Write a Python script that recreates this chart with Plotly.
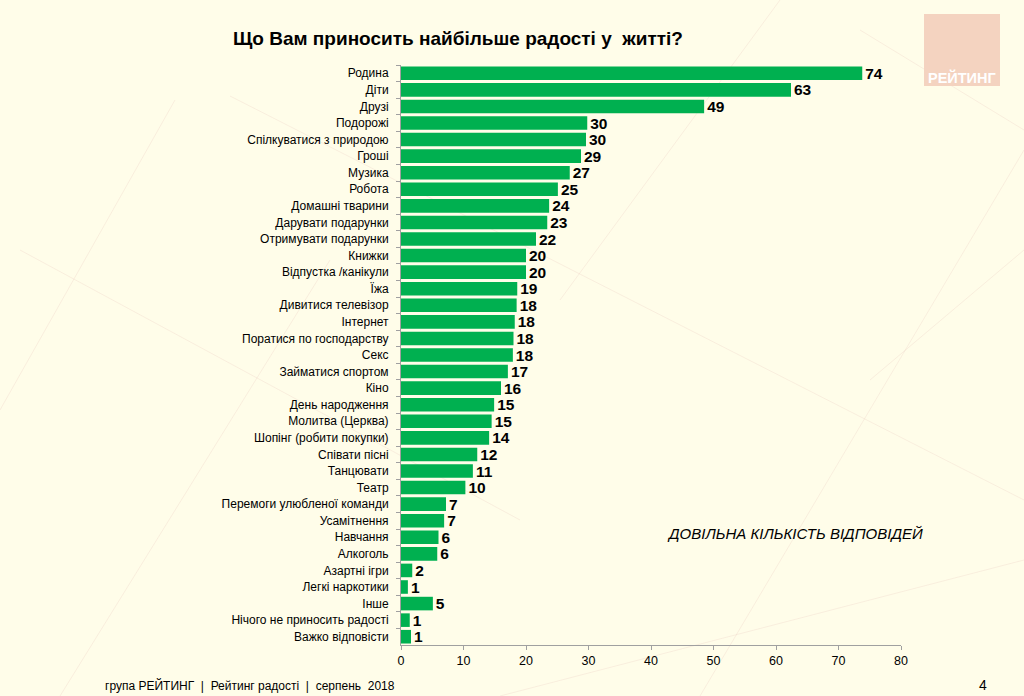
import plotly.graph_objects as go

categories = [
    "Родина", "Діти", "Друзі", "Подорожі", "Спілкуватися з природою", "Гроші",
    "Музика", "Робота", "Домашні тварини", "Дарувати подарунки",
    "Отримувати подарунки", "Книжки", "Відпустка /канікули", "Їжа",
    "Дивитися телевізор", "Інтернет", "Поратися по господарству", "Секс",
    "Займатися спортом", "Кіно", "День народження", "Молитва (Церква)",
    "Шопінг (робити покупки)", "Співати пісні", "Танцювати", "Театр",
    "Перемоги улюбленої команди", "Усамітнення", "Навчання", "Алкоголь",
    "Азартні ігри", "Легкі наркотики", "Інше", "Нічого не приносить радості",
    "Важко відповісти",
]
values = [
    73.8, 62.4, 48.5, 29.8, 29.6, 28.8, 27.0, 25.1, 23.7, 23.4, 21.6, 20.0,
    20.0, 18.6, 18.5, 18.2, 18.0, 17.9, 17.1, 16.0, 14.9, 14.5, 14.1, 12.2,
    11.5, 10.3, 7.2, 6.9, 6.0, 5.8, 1.8, 1.1, 5.1, 1.4, 1.6,
]
value_labels = [
    74, 63, 49, 30, 30, 29, 27, 25, 24, 23, 22, 20, 20, 19, 18, 18, 18, 18,
    17, 16, 15, 15, 14, 12, 11, 10, 7, 7, 6, 6, 2, 1, 5, 1, 1,
]
x_ticks = [0, 10, 20, 30, 40, 50, 60, 70, 80]

W, H = 1024, 696
SANS = "Liberation Sans, Arial, sans-serif"
BG = "#FFFDE9"


def fx(px):
    return px / W


def fy(py):
    return 1 - py / H


fig = go.Figure()
fig.add_trace(go.Bar(
    y=categories,
    x=values,
    orientation="h",
    marker=dict(color="#00B050", line=dict(width=0)),
    text=[str(v) for v in value_labels],
    textposition="outside",
    constraintext="none",
    textfont=dict(family=SANS, size=15.5, color="#000000", weight="bold"),
    cliponaxis=False,
    hoverinfo="x+y",
))

shapes = []
# faint decorative background lines
deco = [
    ((0, 410), (175, 100)), ((60, 696), (330, 260)), ((20, 250), (520, 520)),
    ((500, 696), (1024, 560)), ((560, 300), (780, 0)), ((700, 696), (1024, 150)),
    ((860, 30), (1024, 130)), ((230, 96), (1024, 500)), ((870, 380), (1024, 250)),
]
for (x0, y0), (x1, y1) in deco:
    shapes.append(dict(type="line", xref="paper", yref="paper",
                       x0=fx(x0), y0=fy(y0), x1=fx(x1), y1=fy(y1),
                       line=dict(color="rgba(235,205,195,0.3)", width=1),
                       layer="below"))
# logo box
shapes.append(dict(type="rect", xref="paper", yref="paper",
                   x0=fx(924), x1=fx(1000), y0=fy(86), y1=fy(14),
                   fillcolor="#F4D3C0", line=dict(width=0), layer="below"))

annotations = [
    dict(text="Що Вам приносить найбільше радості у  життi?", x=fx(458), y=fy(38),
         xref="paper", yref="paper", showarrow=False, xanchor="center", yanchor="middle",
         font=dict(family=SANS, size=19, color="#000000", weight="bold")),
    dict(text="РЕЙТИНГ", x=fx(962), y=fy(77), xref="paper", yref="paper",
         showarrow=False, xanchor="center", yanchor="middle",
         font=dict(family=SANS, size=14.5, color="#FFFFFF", weight="bold")),
    dict(text="ДОВІЛЬНА КІЛЬКІСТЬ ВІДПОВІДЕЙ", x=fx(925), y=fy(533),
         xref="paper", yref="paper", showarrow=False, xanchor="right", yanchor="middle",
         font=dict(family=SANS, size=15, color="#000000", style="italic")),
    dict(text="група РЕЙТИНГ  |  Рейтинг радості  |  серпень  2018", x=fx(103), y=fy(685),
         xref="paper", yref="paper", showarrow=False, xanchor="left", yanchor="middle",
         font=dict(family=SANS, size=12, color="#000000")),
    dict(text="4", x=fx(983), y=fy(685), xref="paper", yref="paper", showarrow=False,
         xanchor="center", yanchor="middle",
         font=dict(family=SANS, size=14, color="#000000")),
]

fig.update_layout(
    width=W, height=H,
    margin=dict(l=0, r=0, t=0, b=0, autoexpand=False),
    paper_bgcolor=BG, plot_bgcolor="rgba(0,0,0,0)",
    showlegend=False,
    bargap=0.18,
    shapes=shapes,
    annotations=annotations,
    xaxis=dict(
        domain=[fx(401), fx(901)],
        range=[0, 80], tickvals=x_ticks, ticktext=[str(t) for t in x_ticks],
        showgrid=False, zeroline=False, showline=True, linecolor="#A0A0A0", linewidth=1,
        ticks="outside", ticklen=4, tickcolor="#A0A0A0",
        tickfont=dict(family=SANS, size=12.5, color="#000000"),
        fixedrange=True,
    ),
    yaxis=dict(
        domain=[fy(645), fy(65)],
        autorange="reversed", type="category",
        showgrid=False, zeroline=False, showline=True, linecolor="#A0A0A0", linewidth=1,
        ticks="outside", ticklen=4, tickcolor="#A0A0A0", tickson="boundaries",
        tickfont=dict(family=SANS, size=12, color="#000000"),
        ticklabelstandoff=9,
        fixedrange=True,
    ),
)

fig.write_html(
    "out.html",
    config={"displayModeBar": False},
    post_script="document.body.style.margin='0';document.body.style.overflow='hidden';",
)
